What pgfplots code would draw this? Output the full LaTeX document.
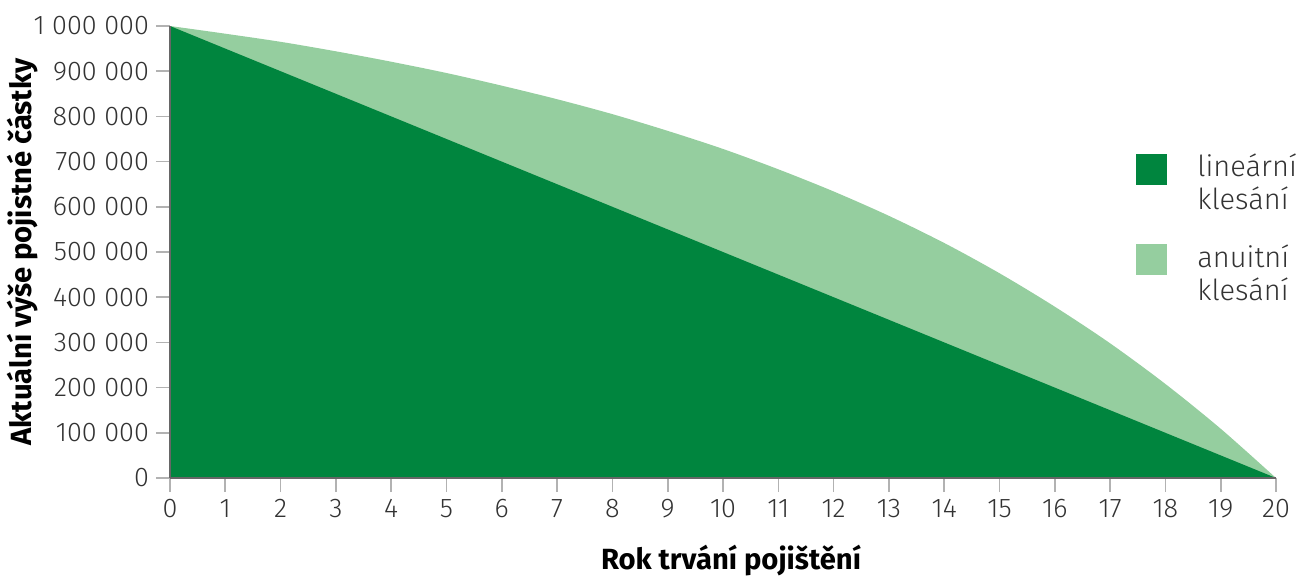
\documentclass[border=0pt]{standalone}
\usepackage{fontspec}
\setmainfont{Fira Sans}
\newfontfamily\firalight{Fira Sans Light}
\usepackage{pgfplots}
\pgfplotsset{compat=1.18}
\definecolor{dgreen}{RGB}{0,133,62}
\definecolor{lgreen}{RGB}{149,206,159}
\definecolor{txt}{RGB}{51,51,51}
\newcommand{\ts}{\kern0.28em}
\begin{document}
\begin{tikzpicture}
\begin{axis}[
  scale only axis,
  width=553pt, height=226pt,
  xmin=0, xmax=20, ymin=0, ymax=1000000,
  xtick={0,1,...,20},
  xticklabels={0,1,2,3,4,5,6,7,8,9,10,11,12,13,14,15,16,17,18,19,20},
  ytick={0,100000,200000,300000,400000,500000,600000,700000,800000,900000,1000000},
  yticklabels={0,100\ts000,200\ts000,300\ts000,400\ts000,500\ts000,600\ts000,700\ts000,800\ts000,900\ts000,1\ts000\ts000},
  scaled y ticks=false,
  axis x line*=bottom, axis y line*=left,
  axis line style={-, draw=black!60, line width=1pt},
  axis on top,
  tick align=outside,
  major tick length=7pt,
  tick style={draw=black!30, line width=0.8pt},
  tick label style={font=\firalight\fontsize{13.5}{16}\selectfont, text=txt},
  xlabel={Rok trvání pojištění},
  ylabel={Aktuální výše pojistné částky},
  label style={font=\bfseries\fontsize{14.6}{18}\selectfont, text=black},
  xlabel style={yshift=-7pt, xshift=4pt},
  ylabel style={yshift=-9pt},
  legend style={draw=none, fill=none, at={(0.868,0.735)}, anchor=north west,
    font=\firalight\fontsize{14.5}{16.5}\selectfont, text=txt,
    nodes={align=left}, row sep=12pt, column sep=13pt, cells={anchor=west}},
  legend image code/.code={\fill[#1] (0pt,-0.5pt) rectangle (15.5pt,15pt);},
  reverse legend,
]
\addplot[draw=none, fill=lgreen, smooth] coordinates {
(0,1000000) (1,983000) (2,965000) (3,944000) (4,921000) (5,896000)
(6,868000) (7,838000) (8,805000) (9,768000) (10,728000) (11,683000)
(12,634000) (13,580000) (14,520000) (15,453000) (16,379000) (17,298000)
(18,208000) (19,109000) (20,0)} \closedcycle;
\addlegendentry{{anuitní\\klesání}}
\addplot[draw=none, fill=dgreen] coordinates {(0,1000000) (20,0)} \closedcycle;
\addlegendentry{{lineární\\klesání}}
\end{axis}
\pgfresetboundingbox
\path (current axis.south west) ++(-85pt,-48.5pt) rectangle ([shift={(11.5pt,13pt)}]current axis.north east);
\end{tikzpicture}
\end{document}
